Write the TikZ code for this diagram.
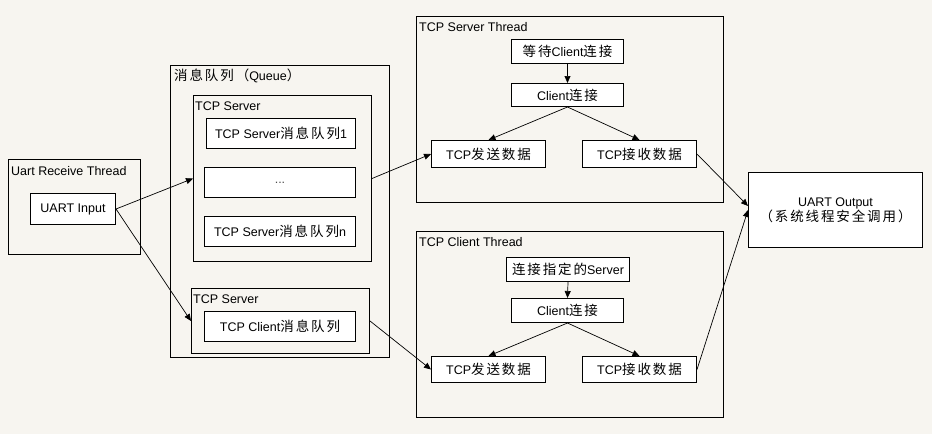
\documentclass[tikz,border=0pt]{standalone}
\usepackage{fontspec}
\setmainfont{Liberation Sans}
\newfontfamily\cjk[Scale=1.08,LetterSpace=14]{Noto Sans CJK SC}
\newcommand\zh[1]{{\cjk #1}}
\usetikzlibrary{arrows.meta}
\definecolor{bg}{RGB}{247,245,240}
\begin{document}
\begin{tikzpicture}[x=1pt,y=-1pt, font=\fontsize{12.5}{15}\selectfont,
  box/.style={draw, fill=white, line width=1pt, inner sep=0pt, anchor=north west},
  frame/.style={draw, line width=1pt, inner sep=0pt, anchor=north west},
  title/.style={anchor=base west, inner sep=0pt},
  arr/.style={-{Triangle[length=7pt,width=6pt]}, line width=0.7pt}]
\path[use as bounding box, fill=bg] (0,0) rectangle (932,434);

% Uart receive thread
\node[frame, minimum width=132pt, minimum height=95pt] (urt) at (8,159) {};
\node[title] (urtt) at ([shift={(3,16)}]urt.north west) {Uart Receive Thread};
\node[box, minimum width=85pt, minimum height=31pt] (uin) at (30,193) {UART Input};

% Queue
\node[frame, minimum width=219pt, minimum height=292pt] (queue) at (170,65) {};
\node[title] (queuet) at ([shift={(4,15)}]queue.north west) {\zh{消息队列（}Queue\zh{）}};
\node[frame, minimum width=178pt, minimum height=166pt] (srvq) at (193,95) {};
\node[title] (srvqt) at ([shift={(2,15)}]srvq.north west) {TCP Server};
\node[box, minimum width=149pt, minimum height=30pt] (sq1) at (206,118) {TCP Server\zh{消息队列}1};
\node[box, minimum width=151pt, minimum height=30pt] (sqd) at (204,167) {\textcolor{black!70}{...}};
\node[box, minimum width=151pt, minimum height=30pt] (sqn) at (204,216) {TCP Server\zh{消息队列}n};
\node[frame, minimum width=178pt, minimum height=65pt] (cliq) at (191,288) {};
\node[title] (cliqt) at ([shift={(2,15)}]cliq.north west) {TCP Server};
\node[box, minimum width=151pt, minimum height=30pt] (cq) at (204,311) {TCP Client\zh{消息队列}};

% TCP Server Thread
\node[frame, minimum width=307pt, minimum height=186pt] (sth) at (416,16) {};
\node[title] (stht) at ([shift={(3,15.5)}]sth.north west) {TCP Server Thread};
\node[box, minimum width=112pt, minimum height=24pt] (s1) at (511,39) {\zh{等待}Client\zh{连接}};
\node[box, minimum width=112pt, minimum height=23pt] (s2) at (511,83) {Client\zh{连接}};
\node[box, minimum width=114pt, minimum height=27pt] (s3) at (431,140) {TCP\zh{发送数据}};
\node[box, minimum width=114pt, minimum height=27pt] (s4) at (582,140) {TCP\zh{接收数据}};

% TCP Client Thread
\node[frame, minimum width=307pt, minimum height=186pt] (cth) at (416,231) {};
\node[title] (ctht) at ([shift={(3,15.5)}]cth.north west) {TCP Client Thread};
\node[box, minimum width=123pt, minimum height=24pt] (c1) at (506,257) {\zh{连接指定的}Server};
\node[box, minimum width=112pt, minimum height=24pt] (c2) at (511,298) {Client\zh{连接}};
\node[box, minimum width=114pt, minimum height=26pt] (c3) at (431,356) {TCP\zh{发送数据}};
\node[box, minimum width=114pt, minimum height=26pt] (c4) at (582,356) {TCP\zh{接收数据}};

% UART Output
\node[box, minimum width=174pt, minimum height=75pt, align=center] (uout) at (748,172) {UART Output\\\zh{（系统线程安全调用）}};

% connectors
\draw[arr] (uin.east) -- (srvq.west);
\draw[arr] (uin.east) -- (cliq.west);
\draw[arr] (srvq.east) -- (s3.west);
\draw[arr] (cliq.east) -- (c3.west);
\draw[arr] (s1.south) -- (s2.north);
\draw[arr] (s2.south) -- (s3.north);
\draw[arr] (s2.south) -- (s4.north);
\draw[arr] (c1.south) -- (c2.north);
\draw[arr] (c2.south) -- (c3.north);
\draw[arr] (c2.south) -- (c4.north);
\draw[arr] (s4.east) -- ([yshift=4pt]uout.west);
\draw[arr] (c4.east) -- (uout.west);
\end{tikzpicture}
\end{document}
